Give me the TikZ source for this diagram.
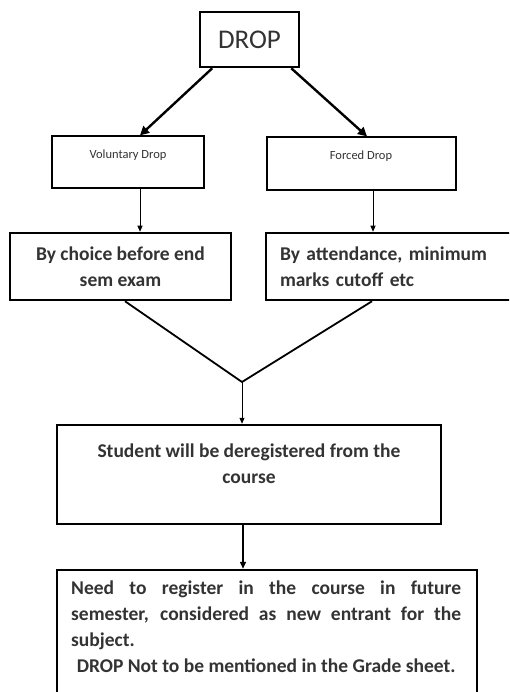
\documentclass[tikz,border=0pt]{standalone}
\usepackage{fontspec}
\setmainfont{Carlito}
\usepackage{tikz}
\usetikzlibrary{arrows.meta}
\definecolor{ink}{HTML}{333333}

\begin{document}
\begin{tikzpicture}[x=1pt,y=-1pt,
  heavybox/.style={draw,line width=2.5pt,inner sep=0pt},
  lightbox/.style={draw,line width=1.2pt,inner sep=0pt},
  boldtxt/.style={font=\fontsize{19.5}{26}\selectfont\bfseries,text=ink,inner sep=0pt},
  smalltxt/.style={font=\fontsize{12.5}{14}\selectfont,text=ink,inner sep=0pt},
  heavyarrow/.style={line width=2.4pt,-{Triangle[length=9pt,width=9pt]}},
  thinarrow/.style={line width=.9pt,-{Triangle[length=6pt,width=5pt]}}]
  \useasboundingbox (0,0) rectangle (509,692);
  \clip (0,0) rectangle (509,692);
  \fill[white] (0,0) rectangle (509,692);

  \node[heavybox,minimum width=99pt,minimum height=55pt,text=ink,
    font=\fontsize{27}{30}\selectfont] (drop) at (249.5,39.5) {DROP};

  \node[lightbox,minimum width=152pt,minimum height=52pt] (vol) at (128,162) {};
  \node[smalltxt] (voltxt) at (128,155) {Voluntary Drop};
  \node[lightbox,minimum width=189pt,minimum height=53pt] (forced) at (361.5,163.5) {};
  \node[smalltxt] (forcedtxt) at (361,156) {Forced Drop};

  \node[heavybox,boldtxt,minimum width=221pt,minimum height=67pt,align=center]
    (choice) at (120.5,266.5) {By choice before end\\sem exam};
  \node[heavybox,boldtxt,minimum height=67pt,inner xsep=14pt,text width=236pt,
    align=left] (attend) at (398,266.5) {By attendance, minimum\\marks cutoff etc};

  \coordinate (join) at (242,382);

  \node[heavybox,minimum width=384pt,minimum height=99pt] (student) at (249,474.5) {};
  \node[boldtxt,align=center] (studenttxt) at (249,464)
    {Student will be deregistered from the\\course};

  \node[heavybox,minimum width=420pt,minimum height=150pt] (final) at (267,645) {};
  \node[boldtxt,anchor=north west,text width=390pt,align=justify] (finaltxt) at (71,581)
    {Need to register in the course in future\linebreak
     semester, considered as new entrant for the\linebreak
     subject.\par
     \centering DROP Not to be mentioned in the Grade sheet.\par};

  \draw[heavyarrow] ([xshift=13.5pt]drop.south west) -- ([xshift=12pt]vol.north);
  \draw[heavyarrow] ([xshift=-9pt]drop.south east) -- ([xshift=5.5pt]forced.north);
  \draw[thinarrow] ([xshift=12pt]vol.south) -- ([xshift=12pt]vol.south |- choice.north);
  \draw[thinarrow] ([xshift=11.5pt]forced.south) -- ([xshift=11.5pt]forced.south |- attend.north);
  \draw[line width=1.8pt] ([xshift=4.5pt]choice.south) -- (join)
    -- ([xshift=-26pt]attend.south);
  \draw[thinarrow] (join) -- (join |- student.north);
  \draw[line width=1.4pt,-{Triangle[length=7pt,width=6pt]}]
    ([xshift=-6pt]student.south) -- ([xshift=-6pt]student.south |- final.north);
\end{tikzpicture}
\end{document}
